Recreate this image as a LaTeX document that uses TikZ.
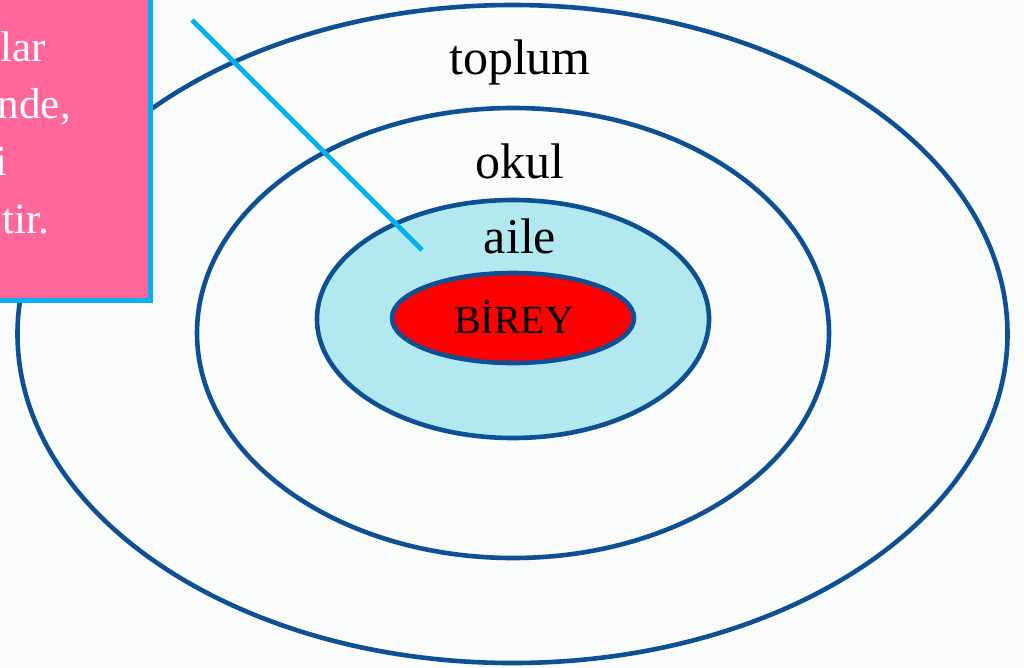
\documentclass[tikz,border=0pt]{standalone}
\usepackage{fontspec}
\setmainfont{Liberation Serif}
\usetikzlibrary{shapes.geometric}
\definecolor{ringblue}{HTML}{0D5194}
\definecolor{calloutblue}{HTML}{00B0F0}
\definecolor{boxpink}{HTML}{FF6699}
\definecolor{ailefill}{HTML}{B2E9F0}
\definecolor{bg}{HTML}{FAFBFB}
\begin{document}
\begin{tikzpicture}[x=1pt,y=-1pt,
  ring/.style={draw=ringblue,line width=4.6pt,ellipse,inner sep=0pt},
  lbl/.style={font=\fontsize{50}{54}\selectfont,text=black,inner sep=0pt},
  boxtxt/.style={font=\fontsize{43}{48}\selectfont,text=white,inner sep=0pt,anchor=base east}]
\useasboundingbox (0,0) rectangle (1024,667);
\clip (0,0) rectangle (1024,667);
\fill[bg] (0,0) rectangle (1024,667);
% rings
\node[ring,minimum width=990pt,minimum height=658pt] (toplumring) at (512.5,334) {};
\node[ring,minimum width=632pt,minimum height=450pt] (okulring) at (513,333) {};
\node[ring,fill=ailefill,minimum width=392pt,minimum height=238pt] (ailering) at (513,319) {};
\node[ring,fill=red,minimum width=242pt,minimum height=90pt] (birey) at (513,318) {};
% labels
\node[lbl,anchor=base] (toplum) at (520,74) {toplum};
\node[lbl,anchor=base] (okul) at (520,178) {okul};
\node[lbl,anchor=base] (aile) at (520,253) {aile};
\node[inner sep=0pt,anchor=base,font=\fontsize{40}{44}\selectfont] (bireytxt) at (514,333) {BİREY};
% callout box
\node[draw=calloutblue,fill=boxpink,line width=5pt,minimum width=200pt,minimum height=360pt,inner sep=0pt,anchor=south east] (box) at (152.5,302.5) {};
\node[boxtxt] (t1) at (46,61) {lar};
\node[boxtxt] (t2) at (71,118) {nde,};
\node[boxtxt] (t3) at (8,175) {i};
\node[boxtxt] (t4) at (49,233) {tir.};
% pointer
\coordinate (pa) at (192,20);
\coordinate (pb) at (422,250);
\draw[calloutblue,line width=4.6pt] (pa) -- (pb);
\end{tikzpicture}
\end{document}
